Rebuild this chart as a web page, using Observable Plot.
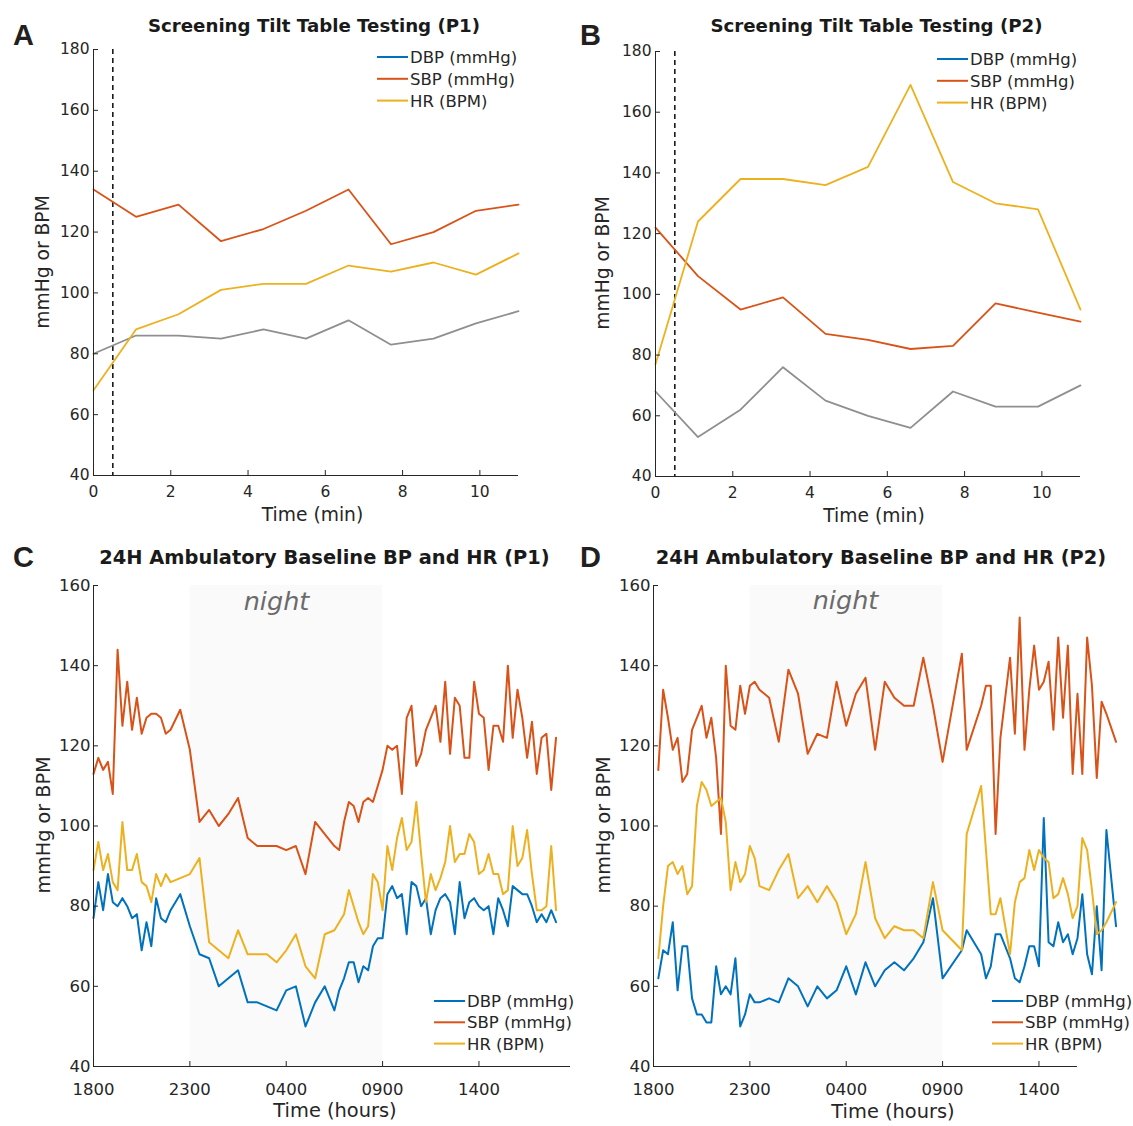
<!DOCTYPE html>
<html>
<head>
<meta charset="utf-8">
<script src="https://cdn.jsdelivr.net/npm/d3@7"></script>
<script src="https://cdn.jsdelivr.net/npm/@observablehq/plot@0.6"></script>
<style>
html,body{margin:0;padding:0;background:#fff;}
#page{position:relative;width:1133px;height:1126px;overflow:hidden;background:#fff;}
.panel{position:absolute;}
.panel svg{overflow:visible;}
#overlay{position:absolute;left:0;top:0;pointer-events:none;}
</style>
</head>
<body>
<div id="page">
<div id="pA" class="panel" style="left:0px;top:0px"></div>
<div id="pB" class="panel" style="left:566px;top:0px"></div>
<div id="pC" class="panel" style="left:0px;top:530px"></div>
<div id="pD" class="panel" style="left:566px;top:530px"></div>
<svg id="overlay" width="1133" height="1126" viewBox="0 0 1133 1126" xmlns="http://www.w3.org/2000/svg">
  <g style="font-family:'Liberation Sans',Arial,sans-serif;font-weight:bold;font-size:29px;fill:#231f20">
    <text x="13" y="45">A</text>
    <text x="580" y="45">B</text>
    <text x="13" y="567">C</text>
    <text x="580" y="567">D</text>
  </g>
  <g style="font-family:'DejaVu Sans',sans-serif;font-weight:bold;fill:#1a1a1a" text-anchor="middle">
    <text x="314" y="32" style="font-size:18.2px">Screening Tilt Table Testing (P1)</text>
    <text x="876.5" y="32" style="font-size:18.2px">Screening Tilt Table Testing (P2)</text>
    <text x="324.5" y="564" style="font-size:19.4px">24H Ambulatory Baseline BP and HR (P1)</text>
    <text x="881" y="564" style="font-size:19.4px">24H Ambulatory Baseline BP and HR (P2)</text>
  </g>
  <g style="font-family:'DejaVu Sans',sans-serif;fill:#262626" text-anchor="middle">
    <text transform="translate(49,262) rotate(-90)" style="font-size:18.7px">mmHg or BPM</text>
    <text transform="translate(609,263) rotate(-90)" style="font-size:18.7px">mmHg or BPM</text>
    <text transform="translate(49.5,825) rotate(-90)" style="font-size:19.2px">mmHg or BPM</text>
    <text transform="translate(610,825) rotate(-90)" style="font-size:19.2px">mmHg or BPM</text>
    <text x="312.5" y="521" style="font-size:18.7px">Time (min)</text>
    <text x="874" y="521.5" style="font-size:18.7px">Time (min)</text>
    <text x="335" y="1117" style="font-size:19.4px">Time (hours)</text>
    <text x="893" y="1118" style="font-size:19.4px">Time (hours)</text>
  </g>
  <g style="font-family:'DejaVu Sans',sans-serif;font-style:italic;font-size:25.5px;fill:#6b6b6b" text-anchor="middle">
    <text x="276.5" y="610">night</text>
    <text x="845.5" y="609">night</text>
  </g>
  <g id="legends"></g>
</svg>
</div>
<script>
// ---------------- DATA ----------------
// Panels A/B: screening tilt table test (minutes)
const tiltTime = [0, 1.1, 2.2, 3.3, 4.4, 5.5, 6.6, 7.7, 8.8, 9.9, 11];
const tiltOnset = [0.5];
const tiltP1_SBP = [134, 125, 129, 117, 121, 127, 134, 116, 120, 127, 129];
const tiltP1_HR = [68, 88, 93, 101, 103, 103, 109, 107, 110, 106, 113];
const tiltP1_Grey = [80, 86, 86, 85, 88, 85, 91, 83, 85, 90, 94];
const tiltP2_SBP = [122, 106, 95, 99, 87, 85, 82, 83, 97, 94, 91];
const tiltP2_HR = [77, 124, 138, 138, 136, 142, 169, 137, 130, 128, 95];
const tiltP2_Grey = [68, 53, 62, 76, 65, 60, 56, 68, 63, 63, 70];
const tiltXTicks = [0, 2, 4, 6, 8, 10];
const tiltYTicks = [40, 60, 80, 100, 120, 140, 160, 180];

// Panels C/D: 24h ambulatory (hours after 18:00)
const nightHours = [5, 15];
const ambXTicks = [0, 5, 10, 15, 20];
const ambXTickLabels = ["1800", "2300", "0400", "0900", "1400"];
const ambYTicks = [40, 60, 80, 100, 120, 140, 160];

const ambP1Time = [0,0.25,0.5,0.75,1,1.25,1.5,1.75,2,2.25,2.5,2.75,3,3.25,3.5,3.75,4,
  4.5,5,5.5,6,6.5,7,7.5,8,8.5,9,9.5,10,10.5,11,11.5,12,12.5,
  12.75,13,13.25,13.5,13.75,14,14.25,14.5,14.75,15,15.25,15.5,15.75,16,16.25,16.5,16.75,17,17.25,17.5,17.75,18,18.25,18.5,18.75,19,19.25,19.5,19.75,20,20.25,20.5,20.75,21,21.25,21.5,21.75,22,22.25,22.5,22.75,23,23.25,23.5,23.75,24];
const ambP1_SBP = [113,117,114,116,108,144,125,136,124,132,123,127,128,128,127,123,124,
  129,119,101,104,100,103,107,97,95,95,95,94,95,88,101,98,95,
  94,101,106,105,101,106,107,106,110,114,120,119,120,108,127,130,115,118,124,127,130,121,136,118,132,130,117,117,136,128,127,114,125,125,121,140,122,134,127,117,126,113,122,123,109,122];
const ambP1_DBP = [77,86,79,88,81,80,82,80,77,78,69,76,70,82,77,76,79,
  83,75,68,67,60,62,64,56,56,55,54,59,60,50,56,60,54,
  59,62,66,66,61,65,64,70,72,72,83,85,82,83,73,86,85,80,82,73,79,82,83,81,73,86,77,81,82,80,79,80,73,82,79,75,85,84,83,83,80,76,78,76,79,76];
const ambP1_HR = [89,96,89,93,86,84,101,89,89,93,86,85,81,88,85,88,86,
  87,88,92,71,69,67,74,68,68,68,66,69,73,65,62,73,74,
  76,78,84,80,76,73,75,88,86,79,95,89,97,102,94,96,106,93,81,88,84,87,91,100,91,93,93,98,96,88,89,93,88,88,83,84,100,90,92,99,88,79,79,80,95,79];

const ambP2Time = [0.25,0.5,0.75,1,1.25,1.5,1.75,2,2.25,2.5,2.75,3,3.25,3.5,3.75,4,4.25,4.5,4.75,5,5.25,5.5,
  6,6.5,7,7.5,8,8.5,9,9.5,10,10.5,11,11.5,12,12.5,13,13.5,14,14.5,15,
  16,16.25,17,17.25,17.5,17.75,18,18.5,18.75,19,19.25,19.5,19.75,20,20.25,20.5,20.75,21,21.25,21.5,21.75,22,22.25,22.5,22.75,23,23.25,23.5,24];
const ambP2_SBP = [114,134,127,119,122,111,113,124,127,130,122,127,117,98,140,125,124,135,128,135,136,134,
  132,121,139,133,118,123,122,136,125,133,137,119,136,132,130,130,142,130,116,
  143,119,130,135,135,98,122,142,123,152,119,134,145,134,136,141,124,147,127,145,113,133,113,147,135,112,131,128,121];
const ambP2_DBP = [62,69,68,76,59,70,70,57,53,53,51,51,65,58,60,58,67,50,53,58,56,56,
  57,56,62,60,55,60,57,59,65,58,66,60,64,66,64,67,71,82,62,
  69,74,68,62,65,73,73,67,62,61,65,70,70,65,102,71,70,76,71,73,68,72,83,68,63,80,64,99,75];
const ambP2_HR = [67,80,90,91,88,90,83,85,105,111,109,105,106,107,101,84,91,86,88,95,92,85,
  84,89,93,82,85,81,85,81,73,78,91,77,72,75,74,74,72,86,74,
  69,98,110,94,78,78,82,68,81,86,87,94,89,94,92,91,82,83,87,83,77,80,97,94,84,73,74,76,81];

const legendNames = ["DBP (mmHg)", "SBP (mmHg)", "HR (BPM)"];

// ---------------- DRAWING ----------------
const colors = {DBP: "#0072BD", SBP: "#D95319", HR: "#EDB120", grey: "#8f8f8f"};
const axisColor = "#262626";

function rows(time, vals) { return time.map((t, i) => ({t, v: vals[i]})); }

function tiltPanel(id, o, sbp, hr, grey) {
  const chart = Plot.plot({
    width: o.w, height: o.h,
    marginLeft: o.ml, marginRight: o.mr, marginTop: o.mt, marginBottom: o.mb,
    style: {fontFamily: "'DejaVu Sans', sans-serif", fontSize: "15.5px", color: axisColor, background: "transparent", overflow: "visible"},
    x: {domain: [0, 11], label: null},
    y: {domain: [40, 180], label: null},
    marks: [
      Plot.ruleX(tiltOnset, {stroke: "#1a1a1a", strokeWidth: 1.6, strokeDasharray: "5,4"}),
      Plot.line(rows(tiltTime, grey), {x: "t", y: "v", stroke: colors.grey, strokeWidth: 1.8}),
      Plot.line(rows(tiltTime, sbp), {x: "t", y: "v", stroke: colors.SBP, strokeWidth: 1.8}),
      Plot.line(rows(tiltTime, hr), {x: "t", y: "v", stroke: colors.HR, strokeWidth: 1.8}),
      Plot.ruleX([0], {stroke: axisColor, strokeWidth: 1}),
      Plot.ruleY([40], {stroke: axisColor, strokeWidth: 1}),
      Plot.axisX(tiltXTicks, {tickSize: -5, tickPadding: 15, label: null, stroke: axisColor, fill: axisColor}),
      Plot.axisY(tiltYTicks, {tickSize: -5, tickPadding: 9, label: null, stroke: axisColor, fill: axisColor})
    ]
  });
  document.getElementById(id).appendChild(chart);
}

function ambPanel(id, o, time, dbp, sbp, hr) {
  const chart = Plot.plot({
    width: o.w, height: o.h,
    marginLeft: o.ml, marginRight: o.mr, marginTop: o.mt, marginBottom: o.mb,
    style: {fontFamily: "'DejaVu Sans', sans-serif", fontSize: "16.5px", color: axisColor, background: "transparent", overflow: "visible"},
    x: {domain: o.xdomain, label: null},
    y: {domain: [40, 160], label: null},
    marks: [
      Plot.rect([nightHours], {x1: d => d[0], x2: d => d[1], fill: "#fafafa"}),
      Plot.line(rows(time, dbp), {x: "t", y: "v", stroke: colors.DBP, strokeWidth: 2}),
      Plot.line(rows(time, sbp), {x: "t", y: "v", stroke: colors.SBP, strokeWidth: 2}),
      Plot.line(rows(time, hr), {x: "t", y: "v", stroke: colors.HR, strokeWidth: 2}),
      Plot.ruleX([0], {stroke: axisColor, strokeWidth: 1}),
      Plot.ruleY([40], {stroke: axisColor, strokeWidth: 1}),
      Plot.axisX(ambXTicks, {tickSize: -5, tickPadding: 22, label: null, stroke: axisColor, fill: axisColor,
        tickFormat: d => ambXTickLabels[ambXTicks.indexOf(d)]}),
      Plot.axisY(ambYTicks, {tickSize: -5, tickPadding: 8, label: null, stroke: axisColor, fill: axisColor})
    ]
  });
  document.getElementById(id).appendChild(chart);
}

tiltPanel("pA", {w: 566, h: 530, ml: 93, mr: 48, mt: 49, mb: 55}, tiltP1_SBP, tiltP1_HR, tiltP1_Grey);
tiltPanel("pB", {w: 567, h: 530, ml: 89, mr: 53, mt: 51, mb: 54}, tiltP2_SBP, tiltP2_HR, tiltP2_Grey);
ambPanel("pC", {w: 580, h: 596, ml: 93, mr: 10, mt: 55, mb: 60, xdomain: [0, 24.75]}, ambP1Time, ambP1_DBP, ambP1_SBP, ambP1_HR);
ambPanel("pD", {w: 567, h: 596, ml: 87, mr: 56, mt: 55, mb: 60, xdomain: [0, 22]}, ambP2Time, ambP2_DBP, ambP2_SBP, ambP2_HR);

// Legends
const legendColors = [colors.DBP, colors.SBP, colors.HR];
const legendSpots = [{x: 377, y: 57, dy: 21.8}, {x: 937, y: 59, dy: 21.8}, {x: 434, y: 1001, dy: 21.3}, {x: 992, y: 1001, dy: 21.3}];
const ns = "http://www.w3.org/2000/svg";
const lg = document.getElementById("legends");
legendSpots.forEach(p => {
  legendNames.forEach((name, i) => {
    const y = p.y + i * p.dy;
    const ln = document.createElementNS(ns, "line");
    ln.setAttribute("x1", p.x); ln.setAttribute("x2", p.x + 31);
    ln.setAttribute("y1", y); ln.setAttribute("y2", y);
    ln.setAttribute("stroke", legendColors[i]); ln.setAttribute("stroke-width", 2);
    lg.appendChild(ln);
    const tx = document.createElementNS(ns, "text");
    tx.setAttribute("x", p.x + 33); tx.setAttribute("y", y + 6);
    tx.setAttribute("style", "font-family:'DejaVu Sans',sans-serif;font-size:16.5px;fill:#262626");
    tx.textContent = name;
    lg.appendChild(tx);
  });
});
</script>
</body>
</html>
